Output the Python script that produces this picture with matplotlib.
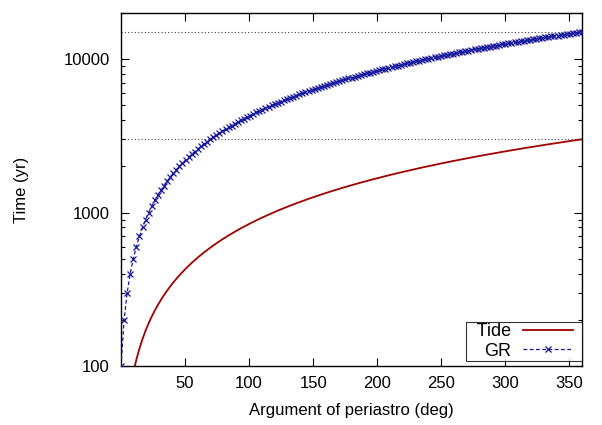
import matplotlib
matplotlib.use("Agg")
import matplotlib.pyplot as plt
from matplotlib.ticker import LogLocator, NullFormatter, FixedLocator
from matplotlib.legend_handler import HandlerLine2D

plt.rcParams['font.family'] = ['Liberation Sans', 'DejaVu Sans']

# argument of periastro (deg), one value per GR marker
angle = [
    0, 2.4, 4.8, 7.2, 9.6, 12, 14.4, 16.8, 19.2, 21.6,
    24, 26.4, 28.8, 31.2, 33.6, 36, 38.4, 40.8, 43.2, 45.6,
    48, 50.4, 52.8, 55.2, 57.6, 60, 62.4, 64.8, 67.2, 69.6,
    72, 74.4, 76.8, 79.2, 81.6, 84, 86.4, 88.8, 91.2, 93.6,
    96, 98.4, 100.8, 103.2, 105.6, 108, 110.4, 112.8, 115.2, 117.6,
    120, 122.4, 124.8, 127.2, 129.6, 132, 134.4, 136.8, 139.2, 141.6,
    144, 146.4, 148.8, 151.2, 153.6, 156, 158.4, 160.8, 163.2, 165.6,
    168, 170.4, 172.8, 175.2, 177.6, 180, 182.4, 184.8, 187.2, 189.6,
    192, 194.4, 196.8, 199.2, 201.6, 204, 206.4, 208.8, 211.2, 213.6,
    216, 218.4, 220.8, 223.2, 225.6, 228, 230.4, 232.8, 235.2, 237.6,
    240, 242.4, 244.8, 247.2, 249.6, 252, 254.4, 256.8, 259.2, 261.6,
    264, 266.4, 268.8, 271.2, 273.6, 276, 278.4, 280.8, 283.2, 285.6,
    288, 290.4, 292.8, 295.2, 297.6, 300, 302.4, 304.8, 307.2, 309.6,
    312, 314.4, 316.8, 319.2, 321.6, 324, 326.4, 328.8, 331.2, 333.6,
    336, 338.4, 340.8, 343.2, 345.6, 348, 350.4, 352.8, 355.2, 357.6,
    360,
]

# GR precession time (yr)
gr_time = [
    100, 200, 300, 400, 500, 600, 700, 800, 900, 1000,
    1100, 1200, 1300, 1400, 1500, 1600, 1700, 1800, 1900, 2000,
    2100, 2200, 2300, 2400, 2500, 2600, 2700, 2800, 2900, 3000,
    3100, 3200, 3300, 3400, 3500, 3600, 3700, 3800, 3900, 4000,
    4100, 4200, 4300, 4400, 4500, 4600, 4700, 4800, 4900, 5000,
    5100, 5200, 5300, 5400, 5500, 5600, 5700, 5800, 5900, 6000,
    6100, 6200, 6300, 6400, 6500, 6600, 6700, 6800, 6900, 7000,
    7100, 7200, 7300, 7400, 7500, 7600, 7700, 7800, 7900, 8000,
    8100, 8200, 8300, 8400, 8500, 8600, 8700, 8800, 8900, 9000,
    9100, 9200, 9300, 9400, 9500, 9600, 9700, 9800, 9900, 10000,
    10100, 10200, 10300, 10400, 10500, 10600, 10700, 10800, 10900, 11000,
    11100, 11200, 11300, 11400, 11500, 11600, 11700, 11800, 11900, 12000,
    12100, 12200, 12300, 12400, 12500, 12600, 12700, 12800, 12900, 13000,
    13100, 13200, 13300, 13400, 13500, 13600, 13700, 13800, 13900, 14000,
    14100, 14200, 14300, 14400, 14500, 14600, 14700, 14800, 14900, 15000,
    15100,
]

# tidal precession time (yr)
tide_time = [
    10, 30, 50, 70, 90, 110, 130, 150, 170, 190,
    210, 230, 250, 270, 290, 310, 330, 350, 370, 390,
    410, 430, 450, 470, 490, 510, 530, 550, 570, 590,
    610, 630, 650, 670, 690, 710, 730, 750, 770, 790,
    810, 830, 850, 870, 890, 910, 930, 950, 970, 990,
    1010, 1030, 1050, 1070, 1090, 1110, 1130, 1150, 1170, 1190,
    1210, 1230, 1250, 1270, 1290, 1310, 1330, 1350, 1370, 1390,
    1410, 1430, 1450, 1470, 1490, 1510, 1530, 1550, 1570, 1590,
    1610, 1630, 1650, 1670, 1690, 1710, 1730, 1750, 1770, 1790,
    1810, 1830, 1850, 1870, 1890, 1910, 1930, 1950, 1970, 1990,
    2010, 2030, 2050, 2070, 2090, 2110, 2130, 2150, 2170, 2190,
    2210, 2230, 2250, 2270, 2290, 2310, 2330, 2350, 2370, 2390,
    2410, 2430, 2450, 2470, 2490, 2510, 2530, 2550, 2570, 2590,
    2610, 2630, 2650, 2670, 2690, 2710, 2730, 2750, 2770, 2790,
    2810, 2830, 2850, 2870, 2890, 2910, 2930, 2950, 2970, 2990,
    3010,
]

ref_levels = [15000, 3000]
xticks = [50, 100, 150, 200, 250, 300, 350]


class ShortLine(HandlerLine2D):
    # gnuplot-style key: sample line leaves a gap before the frame
    def create_artists(self, legend, orig_handle, xdescent, ydescent,
                       width, height, fontsize, trans):
        return super().create_artists(legend, orig_handle, xdescent, ydescent,
                                      width * 0.86, height, fontsize, trans)


fig = plt.figure(figsize=(6.02, 4.25), dpi=100)
ax = fig.add_axes([0.201, 0.139, 0.766, 0.830])

for lvl in ref_levels:
    ax.axhline(lvl, color='#444444', lw=0.8, ls=(0, (1, 2)), zorder=1)

ax.plot(angle, tide_time, color='#a00000', lw=1.3, label='  Tide', zorder=3)
ax.plot(angle, gr_time, color='#15159a', lw=0.9, ls=(0, (3, 2)),
        marker='x', ms=4.5, mew=0.9, label='GR', zorder=4)

ax.set_yscale('log')
ax.set_xlim(0, 360)
ax.set_ylim(100, 20000)

ax.xaxis.set_major_locator(FixedLocator(xticks))
ax.set_yticks([100, 1000, 10000])
ax.set_yticklabels(['100', '1000', '10000'])
ax.yaxis.set_minor_locator(LogLocator(base=10, subs=range(2, 10)))
ax.yaxis.set_minor_formatter(NullFormatter())

ax.tick_params(which='both', direction='in', top=True, right=True,
               labelsize=12, width=0.8, colors='black')
ax.tick_params(which='major', length=6)
ax.tick_params(axis='y', which='major', pad=8)
ax.tick_params(axis='x', which='major', pad=7)
ax.tick_params(which='minor', length=3)
for sp in ax.spines.values():
    sp.set_linewidth(1.0)

ax.set_xlabel('Argument of periastro (deg)', fontsize=12, labelpad=9)
ax.set_ylabel('Time (yr)', fontsize=12, labelpad=25)

leg = ax.legend(loc='lower right', markerfirst=False, fontsize=13,
                frameon=True, fancybox=False, borderaxespad=0.0,
                handlelength=3.2, handletextpad=0.67, labelspacing=0.15,
                borderpad=0.05, handler_map={plt.Line2D: ShortLine()})
leg.get_frame().set_edgecolor('black')
leg.get_frame().set_linewidth(0.8)
leg.set_bbox_to_anchor((1.0, 0.015), transform=ax.transAxes)
for t in leg.get_texts():
    t.set_ha('right')

fig.savefig('out.png', dpi=100)
